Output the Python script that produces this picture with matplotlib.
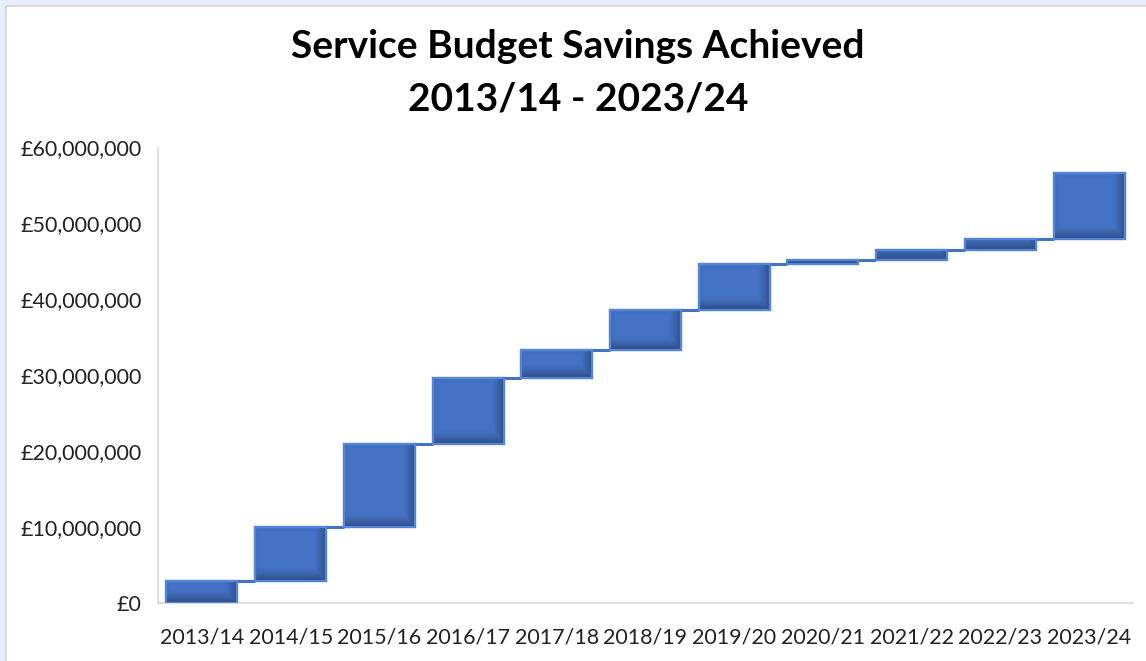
import matplotlib.pyplot as plt
import matplotlib.patches as mpatches
import matplotlib.ticker as mticker
import numpy as np

years = ['2013/14', '2014/15', '2015/16', '2016/17', '2017/18', '2018/19',
         '2019/20', '2020/21', '2021/22', '2022/23', '2023/24']
# savings achieved in each year (£)
savings = [2_900_000, 7_150_000, 10_950_000, 8_700_000, 3_600_000, 5_300_000,
           6_000_000, 600_000, 1_300_000, 1_500_000, 8_700_000]

totals = np.cumsum(savings)
starts = totals - np.array(savings)

fill = '#4472C4'
edge = '#5585D6'
dark = np.array([0.16, 0.27, 0.47])

plt.rcParams['font.family'] = ['Lato', 'DejaVu Sans']

fig = plt.figure(figsize=(11.46, 6.61), dpi=100)
fig.patch.set_facecolor('#E4EFFD')
# white chart area with a thin grey frame on the top/left, like the Excel screenshot
bg = mpatches.Rectangle((5.5 / 1146, -0.01), 1, 1.01 - 5.5 / 661, transform=fig.transFigure,
                        facecolor='white', edgecolor='#D4D4D4', linewidth=1.2, zorder=-10)
fig.add_artist(bg)

ax = fig.add_axes([157.6 / 1146, 58 / 661, 975.8 / 1146, 455.5 / 661])
ax.set_zorder(1)
ax.set_xlim(-0.5, len(years) - 0.5)
ax.set_ylim(0, 60_000_000)

x = np.arange(len(years))
width = 0.8
bars = ax.bar(x, savings, bottom=starts, width=width, color=fill, edgecolor=edge,
              linewidth=1.6, zorder=3)

# inner shadow on each bar (darker towards the bottom and right edge)
fig.canvas.draw()
for b, xi, s0, v in zip(bars, x, starts, savings):
    x0, y0 = ax.transData.transform((xi - width / 2, s0))
    x1, y1 = ax.transData.transform((xi + width / 2, s0 + v))
    wpx, hpx = max(int(x1 - x0), 2), max(int(y1 - y0), 2)
    yy, xx = np.mgrid[0:hpx, 0:wpx]
    d_bottom = (hpx - 1 - yy).astype(float)
    d_right = (wpx - 1 - xx).astype(float)
    d_left = xx.astype(float)
    d_top = yy.astype(float)
    a = np.maximum(np.clip(1 - d_bottom / 13, 0, 1) * 0.85,
                   np.clip(1 - d_right / 12, 0, 1) * 0.8)
    a = np.maximum(a, np.clip(1 - d_left / 6, 0, 1) * 0.25)
    a = np.maximum(a, np.clip(1 - d_top / 6, 0, 1) * 0.2)
    img = np.zeros((hpx, wpx, 4))
    img[..., :3] = dark
    img[..., 3] = a ** 1.4
    im = ax.imshow(img, extent=(xi - width / 2, xi + width / 2, s0, s0 + v),
                   aspect='auto', origin='upper', zorder=3.5, interpolation='bilinear')
    im.set_clip_path(b)
    ax.add_patch(mpatches.Rectangle((xi - width / 2, s0), width, v, facecolor='none',
                                    edgecolor=edge, linewidth=1.6, zorder=4))

# connector lines between the steps
for i in range(len(years) - 1):
    ax.plot([x[i] + width / 2, x[i + 1] - width / 2], [totals[i], totals[i]],
            color=fill, linewidth=2.2, zorder=2, solid_capstyle='butt')

ax.set_xlim(-0.5, len(years) - 0.5)
ax.set_ylim(0, 60_000_000)
ax.set_xticks(x)
ax.set_xticklabels(years)
ax.set_yticks(np.arange(0, 60_000_001, 10_000_000))
ax.yaxis.set_major_formatter(mticker.FuncFormatter(lambda v, p: f'£{v:,.0f}'))
ax.tick_params(axis='both', length=0, labelsize=15.5, colors='#222222')
ax.tick_params(axis='y', pad=11.5)
ax.tick_params(axis='x', pad=18)

for s in ['top', 'right']:
    ax.spines[s].set_visible(False)
for s in ['left', 'bottom']:
    ax.spines[s].set_color('#D9D9D9')
    ax.spines[s].set_linewidth(1.2)
ax.set_facecolor('none')

fig.text(578 / 1146, 1 - 46 / 661, 'Service Budget Savings Achieved', ha='center', va='center',
         fontsize=28, fontweight='bold')
fig.text(578 / 1146, 1 - 99 / 661, '2013/14 - 2023/24', ha='center', va='center',
         fontsize=28, fontweight='bold')

fig.savefig('out.png', dpi=100, facecolor=fig.get_facecolor())
